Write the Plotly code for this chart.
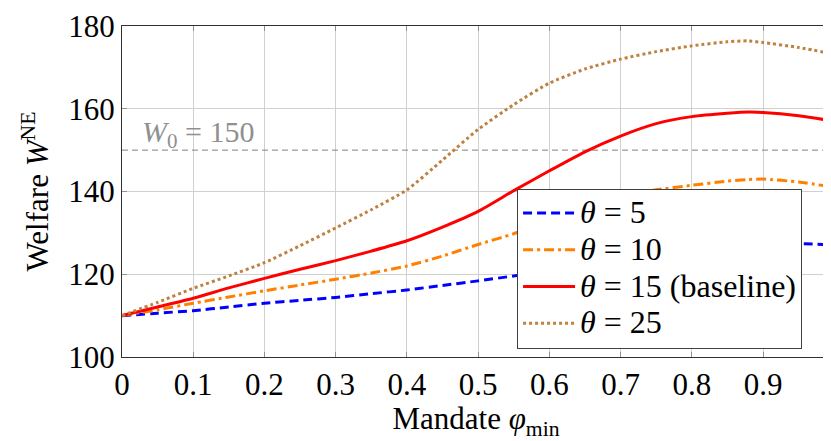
import plotly.graph_objects as go

x = [0, 0.05, 0.1, 0.15, 0.2, 0.25, 0.3, 0.35, 0.4, 0.45, 0.5, 0.55, 0.6, 0.65, 0.7, 0.75, 0.8, 0.85, 0.88, 0.9, 0.95, 1.0]

theta5 = [110, 110.6, 111.2, 112.1, 113.0, 113.7, 114.4, 115.3, 116.2, 117.3, 118.4, 119.6, 120.9, 122.2, 123.5, 124.6, 125.6, 126.4, 126.9, 127.2, 127.4, 127.1]
theta10 = [110, 111.4, 113.0, 114.5, 116.0, 117.4, 118.8, 120.3, 122.0, 124.4, 127.2, 129.8, 133.0, 136.3, 139.0, 140.4, 141.5, 142.5, 142.9, 143.0, 142.3, 141.0]
theta15 = [110, 112.1, 114.2, 116.7, 119.0, 121.2, 123.3, 125.6, 128.1, 131.4, 135.2, 140.2, 145.0, 149.6, 153.4, 156.4, 158.1, 158.9, 159.2, 159.1, 158.3, 157.0]
theta25 = [110, 113.2, 116.6, 119.6, 122.8, 126.9, 131.2, 135.6, 140.4, 147.6, 155.0, 161.0, 166.2, 169.6, 172.0, 173.8, 175.2, 176.2, 176.4, 176.0, 174.8, 173.2]

names = ["<i>θ</i> = 5", "<i>θ</i> = 10", "<i>θ</i> = 15 (baseline)", "<i>θ</i> = 25"]
colors = ["#0000ff", "#ff8000", "#ff0000", "#bf8040"]
dashes = ["9px,5px", "10px,4px,3px,4px", "solid", "3px,3px"]
series = [theta5, theta10, theta15, theta25]

baseline_w0 = 150
x_ticks = [0, 0.1, 0.2, 0.3, 0.4, 0.5, 0.6, 0.7, 0.8, 0.9]
x_ticktext = ["0", "0.1", "0.2", "0.3", "0.4", "0.5", "0.6", "0.7", "0.8", "0.9"]
y_ticks = [100, 120, 140, 160, 180]

FONT = "Liberation Serif"

fig = go.Figure()

# W0 reference line
fig.add_trace(go.Scatter(x=[0, 1], y=[baseline_w0, baseline_w0], mode="lines",
                         line=dict(color="#808080", width=1, dash="6px,4px"),
                         showlegend=False, hoverinfo="skip"))

for s, n, c, d in zip(series, names, colors, dashes):
    fig.add_trace(go.Scatter(x=x, y=s, name='<span style="font-size:32px">' + n + '</span>',
                             mode="lines",
                             line=dict(color=c, width=3, dash=d, shape="spline", smoothing=0.6)))

fig.add_annotation(x=0.025, y=baseline_w0, xref="x", yref="y",
                   text="<i>W</i><sub>0</sub> = 150", showarrow=False,
                   xanchor="left", yanchor="bottom", yshift=-5,
                   font=dict(family=FONT, size=30, color="#909090"))

# partially visible tick label "1" at the right edge
fig.add_annotation(x=1, y=0, xref="x", yref="paper", text="1", showarrow=False,
                   xanchor="center", yanchor="top", yshift=-6,
                   font=dict(family=FONT, size=31, color="black"))

fig.update_layout(
    width=823, height=433,
    margin=dict(l=114, r=1, t=15, b=84),
    plot_bgcolor="white", paper_bgcolor="white",
    font=dict(family=FONT, size=31, color="black"),
    showlegend=True,
    legend=dict(x=0.558, y=0.509, xanchor="left", yanchor="top",
                bgcolor="white", bordercolor="#404040", borderwidth=1,
                font=dict(family=FONT, size=26), tracegroupgap=0,
                itemwidth=52),
    xaxis=dict(range=[0, 0.994], tickmode="array", tickvals=x_ticks, ticktext=x_ticktext,
               showgrid=True, gridcolor="#d0d0d0", gridwidth=1, zeroline=False,
               showline=True, linecolor="#303030", linewidth=1.2, mirror="ticks",
               ticks="inside", ticklen=5, tickcolor="#909090",
               tickfont=dict(family=FONT, size=31),
               title=dict(text="Mandate <i>φ</i><sub>min</sub>", font=dict(family=FONT, size=31), standoff=14)),
    yaxis=dict(range=[100, 180], tickmode="array", tickvals=y_ticks,
               showgrid=True, gridcolor="#d0d0d0", gridwidth=1, zeroline=False,
               showline=True, linecolor="#303030", linewidth=1.2, mirror=False,
               ticks="inside", ticklen=5, tickcolor="#909090", ticklabeloverflow="allow",
               tickfont=dict(family=FONT, size=31),
               title=dict(text="Welfare <i>W</i><sup>NE</sup>", font=dict(family=FONT, size=31), standoff=10)),
)

fig.write_html("out.html")
